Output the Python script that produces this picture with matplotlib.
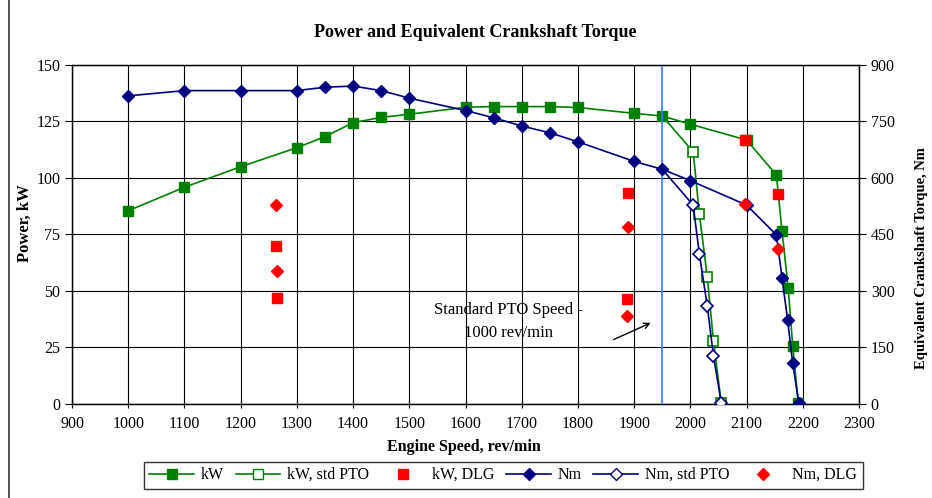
import matplotlib
matplotlib.use("Agg")
import matplotlib.pyplot as plt
from matplotlib.lines import Line2D

plt.rcParams['font.family'] = ['Liberation Serif', 'DejaVu Serif']

# engine speed (rev/min) and power (kW) - full load curve
kwSpeed = [1000, 1100, 1200, 1300, 1350, 1400, 1450, 1500, 1600, 1650, 1700, 1750,
           1800, 1900, 1950, 2000, 2100, 2153, 2163, 2174, 2182, 2192]
kwPower = [85.5, 95.9, 105.0, 113.4, 118.3, 124.5, 126.8, 128.2, 131.3, 131.6, 131.6, 131.6,
           131.2, 128.6, 127.4, 123.8, 116.8, 101.3, 76.6, 51.2, 25.8, 0.3]

# torque (Nm) - full load curve
nmSpeed = [1000, 1100, 1200, 1300, 1350, 1400, 1450, 1500, 1600, 1650, 1700, 1750,
           1800, 1900, 1950, 2000, 2100, 2153, 2163, 2173, 2182, 2193]
nmTorque = [818, 832, 832, 832, 841, 844, 832, 812, 779, 760, 738, 720,
            696, 644, 623, 593, 528, 449, 335, 223, 108, 2]

# governor runout with standard PTO speed
ptoSpeed = [1950, 2005, 2016, 2030, 2041, 2055]
ptoPower = [127.4, 111.6, 84.0, 56.3, 28.0, 0.3]
ptoTorque = [623, 528, 397, 261, 128, 2]

# drawbar (DLG) tests
dlgSpeed = [1263, 1265, 1889, 1887, 2097, 2155]
dlgPower = [70.0, 46.8, 93.5, 46.3, 116.8, 92.9]
dlgTorque = [528, 353, 471, 234, 531, 411]

ptoLine = 1950

green = '#008000'
navy = '#000080'
red = '#ff0000'

fig = plt.figure(figsize=(9.32, 4.98), dpi=100)
ax = fig.add_axes([0.0773, 0.1888, 0.8444, 0.6807])
ax2 = ax.twinx()

# power curves
ax.plot(kwSpeed, kwPower, '-', color=green, lw=1.2, marker='s', markersize=7,
        markerfacecolor=green, markeredgecolor=green, zorder=3)
ax.plot(ptoSpeed, ptoPower, '-', color=green, lw=1.2, marker='s', markersize=7,
        markerfacecolor='white', markeredgecolor=green, markeredgewidth=1.2, zorder=3,
        markevery=list(range(1, len(ptoSpeed))))
ax.plot(dlgSpeed, dlgPower, 's', color=red, markersize=7, zorder=4)

# torque curves
ax2.plot(nmSpeed, nmTorque, '-', color=navy, lw=1.2, marker='D', markersize=6,
         markerfacecolor=navy, markeredgecolor=navy, zorder=3)
ax2.plot(ptoSpeed, ptoTorque, '-', color=navy, lw=1.2, marker='D', markersize=6,
         markerfacecolor='white', markeredgecolor=navy, markeredgewidth=1.2, zorder=3,
         markevery=list(range(1, len(ptoSpeed))))
ax2.plot(dlgSpeed, dlgTorque, 'D', color=red, markersize=6, zorder=4)

# standard PTO speed marker
ax2.axvline(ptoLine, color='#3d7bff', lw=1.2, zorder=2)

ax.set_xlim(900, 2300)
ax.set_ylim(0, 150)
ax2.set_ylim(0, 900)
ax.set_xticks(range(900, 2301, 100))
ax.set_yticks(range(0, 151, 25))
ax2.set_yticks(range(0, 901, 150))
ax.grid(True, color='black', lw=0.8)
ax.set_axisbelow(True)

for a in (ax, ax2):
    a.tick_params(labelsize=11.5, length=5, width=0.8, color='black')
    for s in a.spines.values():
        s.set_linewidth(0.9)
ax.tick_params(axis='x', direction='inout', length=6, pad=6)

fig.text(0.51, 0.934, 'Power and Equivalent Crankshaft Torque', ha='center', va='center',
         fontsize=13, fontweight='bold')
fig.text(0.498, 0.102, 'Engine Speed, rev/min', ha='center', va='center',
         fontsize=11.5, fontweight='bold')
fig.text(0.027, 0.552, 'Power, kW', ha='center', va='center', rotation=90,
         fontsize=12, fontweight='bold')
fig.text(0.989, 0.482, 'Equivalent Crankshaft Torque, Nm', ha='center', va='center',
         rotation=90, fontsize=10.5, fontweight='bold')

ax.text(1677, 36.5, 'Standard PTO Speed -\n1000 rev/min', ha='center', va='center',
        fontsize=12, linespacing=1.6, zorder=5)
ax.annotate('', xy=(1934, 36.4), xytext=(1859, 28),
            arrowprops=dict(arrowstyle='->', color='black', lw=1))

handles = [
    Line2D([], [], color=green, lw=1.2, marker='s', markersize=7),
    Line2D([], [], color=green, lw=1.2, marker='s', markersize=7, markerfacecolor='white'),
    Line2D([], [], color=red, ls='none', marker='s', markersize=7),
    Line2D([], [], color=navy, lw=1.2, marker='D', markersize=6),
    Line2D([], [], color=navy, lw=1.2, marker='D', markersize=6, markerfacecolor='white'),
    Line2D([], [], color=red, ls='none', marker='D', markersize=6),
]
labels = ['kW', 'kW, std PTO', 'kW, DLG', 'Nm', 'Nm, std PTO', 'Nm, DLG']
fig.legend(handles, labels, loc='center', bbox_to_anchor=(0.54, 0.046), ncol=6,
           fontsize=11.5, frameon=True, fancybox=False, edgecolor='black',
           handlelength=2.8, handletextpad=0.4, columnspacing=0.75, borderpad=0.35)

# left edge of the outer chart frame
fig.add_artist(Line2D([9 / 932, 9 / 932], [0, 1], transform=fig.transFigure,
                      color='#333333', lw=1.2))

fig.savefig('out.png', dpi=100)
